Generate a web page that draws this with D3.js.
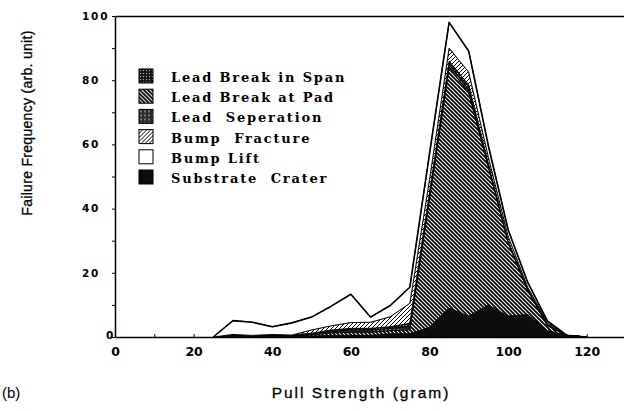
<!DOCTYPE html>
<html>
<head>
<meta charset="utf-8">
<script src="https://cdn.jsdelivr.net/npm/d3@7"></script>
<style>
	body { margin: 0; background: white; }
	svg { display: block; }
</style>
</head>
<body>
<div id="chart"></div>
<script>
// pull strength (gram) of each sample point
let grams = [25, 30, 35, 40, 45, 50, 55, 60, 65, 70, 75, 80, 85, 90, 95, 100, 105, 110, 115, 120];
// failure frequency per mode, stacked from bottom to top
let crater   = [0, 0, 0, 0, 0, 0.3, 0.5, 0.5, 0.5, 1, 1, 3, 9, 6.5, 10, 6.5, 7, 2, 0.5, 0];
let pad      = [0, 0.3, 0.2, 0.3, 0.2, 0.4, 0.8, 1, 1, 1, 1.3, 40, 75, 69.5, 43, 23, 7.5, 1.5, 0, 0];
let sep      = [0, 0.3, 0.2, 0.3, 0.2, 0.3, 0.5, 0.7, 0.7, 0.7, 1, 1, 1, 1, 0.5, 0.3, 0.2, 0.2, 0, 0];
let span     = [0, 0.2, 0.1, 0.2, 0.2, 0.2, 0.4, 0.5, 0.5, 0.5, 1, 1, 1, 1.5, 0.5, 0.2, 0.3, 0.3, 0, 0];
let fracture = [0, 0, 0, 0, 0, 1, 1.3, 1.8, 1.9, 3.1, 6.2, 4, 4, 4, 2, 1.5, 0.5, 0.5, 0, 0];
let lift     = [0, 4.3, 4.1, 2.4, 3.8, 4, 6.1, 8.8, 1.6, 3.5, 5, 8, 8, 6.5, 3.5, 2, 1.5, 0.5, 0, 0];

let stackKeys = ["crater", "pad", "sep", "span", "fracture", "lift"];
let legendKeys = ["span", "pad", "sep", "fracture", "lift", "crater"];
let legendNames = {
	span: "Lead Break in Span",
	pad: "Lead Break at Pad",
	sep: "Lead  Seperation",
	fracture: "Bump  Fracture",
	lift: "Bump Lift",
	crater: "Substrate  Crater"
};
let xTicks = [0, 20, 40, 60, 80, 100, 120];
let yTicks = [0, 20, 40, 60, 80, 100];

let series = {crater, pad, sep, span, fracture, lift};
let table = grams.map((g, i) => Object.assign({g}, ...stackKeys.map(k => ({[k]: series[k][i]}))));

let width = 624, height = 411;
let margin = {top: 16, right: -2, bottom: 74, left: 115};

let svg = d3.select("#chart").append("svg")
	.attr("width", width)
	.attr("height", height);

let x = d3.scaleLinear([0, 130], [margin.left, width - margin.right]);
let y = d3.scaleLinear([0, 100], [height - margin.bottom, margin.top]);

// fill patterns that imitate the printed textures
let defs = svg.append("defs");
function pattern(id, size, draw) {
	let p = defs.append("pattern")
		.attr("id", id)
		.attr("patternUnits", "userSpaceOnUse")
		.attr("width", size)
		.attr("height", size);
	draw(p);
}
pattern("p-span", 3, p => {
	p.append("rect").attr("width", 3).attr("height", 3).attr("fill", "#1a1a1a");
	p.append("rect").attr("x", 1).attr("y", 1).attr("width", 1).attr("height", 1).attr("fill", "#bbb");
});
pattern("p-pad", 4, p => {
	p.append("rect").attr("width", 4).attr("height", 4).attr("fill", "white");
	p.append("path").attr("d", "M0,0L4,4M-1,3L1,5M3,-1L5,1")
		.attr("stroke", "black").attr("stroke-width", 1.8);
});
pattern("p-sep", 4, p => {
	p.append("rect").attr("width", 4).attr("height", 4).attr("fill", "#2a2a2a");
	p.append("circle").attr("cx", 2).attr("cy", 2).attr("r", 0.8).attr("fill", "#ddd");
});
pattern("p-fracture", 4, p => {
	p.append("rect").attr("width", 4).attr("height", 4).attr("fill", "white");
	p.append("path").attr("d", "M0,4L4,0M-1,1L1,-1M3,5L5,3")
		.attr("stroke", "black").attr("stroke-width", 1);
});
let fills = {
	span: "url(#p-span)",
	pad: "url(#p-pad)",
	sep: "url(#p-sep)",
	fracture: "url(#p-fracture)",
	lift: "white",
	crater: "#0d0d0d"
};

// stacked areas
let stacked = d3.stack().keys(stackKeys)(table);
let area = d3.area()
	.x(d => x(d.data.g))
	.y0(d => y(d[0]))
	.y1(d => y(d[1]));
svg.append("g")
	.selectAll("path")
	.data(stacked)
	.join("path")
	.attr("fill", d => fills[d.key])
	.attr("stroke", "black")
	.attr("stroke-width", 0.9)
	.attr("stroke-linejoin", "round")
	.attr("d", area);

// outer envelope
let envelope = stacked[stacked.length - 1];
svg.append("path")
	.attr("fill", "none")
	.attr("stroke", "black")
	.attr("stroke-width", 1.6)
	.attr("stroke-linejoin", "round")
	.attr("d", d3.line().x(d => x(d.data.g)).y(d => y(d[1]))(envelope));

// frame line on top
svg.append("g")
	.attr("transform", `translate(0,${margin.top})`)
	.call(d3.axisTop(x).tickValues([]).tickSizeOuter(0))
	.call(g => g.select(".domain").attr("stroke-width", 1.3));

// x axis
svg.append("g")
	.attr("transform", `translate(0,${height - margin.bottom})`)
	.call(d3.axisBottom(x).tickValues(d3.range(0, 130, 10)).tickSizeInner(-3).tickSizeOuter(0).tickPadding(10)
		.tickFormat(d => xTicks.includes(d) ? d : ""))
	.call(g => g.select(".domain").attr("stroke-width", 1.5))
	.call(g => g.selectAll("text")
		.attr("font-family", "DejaVu Sans")
		.attr("font-weight", "bold")
		.attr("font-size", 12.5)
		.attr("fill", "black"));

// y axis
svg.append("g")
	.attr("transform", `translate(${margin.left},0)`)
	.call(d3.axisLeft(y).tickValues(d3.range(0, 101, 10)).tickSizeInner(3).tickSizeOuter(0)
		.tickFormat(d => yTicks.includes(d) ? d : ""))
	.call(g => g.select(".domain").attr("stroke-width", 1.5))
	.call(g => g.selectAll("text")
		.attr("text-anchor", "start")
		.attr("x", d => d === 0 ? -9 : -33)
		.attr("dy", d => d === 0 ? "0.1em" : "0.32em")
		.attr("font-family", "DejaVu Sans")
		.attr("font-weight", "bold")
		.attr("font-size", 10.5)
		.attr("letter-spacing", 1.8)
		.attr("fill", "black"));

// axis titles
svg.append("text")
	.attr("transform", `translate(32,123) rotate(-90)`)
	.attr("text-anchor", "middle")
	.attr("font-family", "Liberation Sans")
	.attr("font-size", 14)
	.attr("letter-spacing", 0.3)
	.attr("stroke", "black")
	.attr("stroke-width", 0.3)
	.text("Failure Frequency (arb. unit)");
svg.append("text")
	.attr("x", 361)
	.attr("y", 398)
	.attr("text-anchor", "middle")
	.attr("font-family", "Liberation Sans")
	.attr("font-size", 15.5)
	.attr("letter-spacing", 2)
	.attr("stroke", "black")
	.attr("stroke-width", 0.3)
	.text("Pull Strength (gram)");
svg.append("text")
	.attr("x", 2)
	.attr("y", 398)
	.attr("font-family", "Liberation Sans")
	.attr("font-size", 15)
	.text("(b)");

// legend
let legend = svg.append("g")
	.attr("transform", "translate(139,69)")
	.selectAll("g")
	.data(legendKeys)
	.join("g")
	.attr("transform", (d, i) => `translate(0,${i * 20.2})`);
legend.append("rect")
	.attr("width", 14)
	.attr("height", 14)
	.attr("fill", d => fills[d])
	.attr("stroke", "black")
	.attr("stroke-width", 1);
legend.append("text")
	.attr("x", 32)
	.attr("y", 13)
	.attr("xml:space", "preserve")
	.style("white-space", "pre")
	.attr("font-family", "DejaVu Serif")
	.attr("font-weight", "bold")
	.attr("font-size", 13)
	.attr("letter-spacing", 1.8)
	.text(d => legendNames[d]);
</script>
</body>
</html>
